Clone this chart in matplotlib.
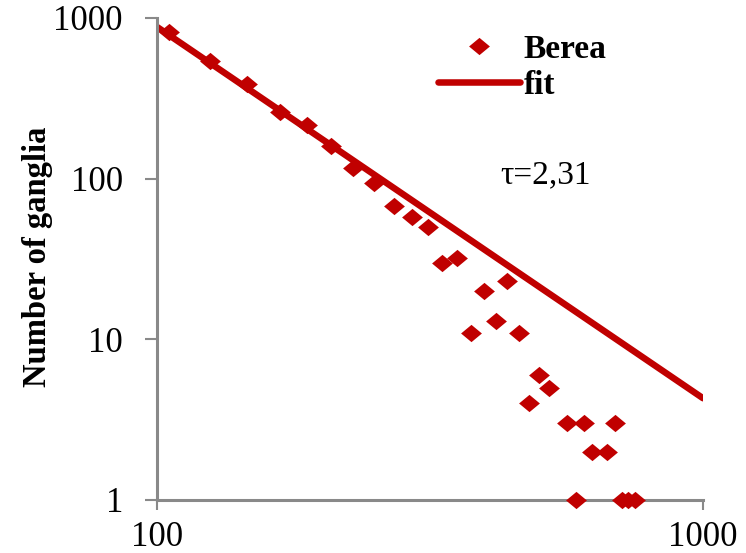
import numpy as np
import matplotlib
matplotlib.use('Agg')
import matplotlib.pyplot as plt
from matplotlib.ticker import FixedLocator, NullLocator, FixedFormatter

    ## data
# ganglion size (x) and number of ganglia (y), Berea sample
size = [105, 125, 146, 168, 188, 208, 229, 250, 272, 293, 313, 333, 355, 376, 397,
        418, 438, 460, 480, 501, 522, 564, 586, 605, 626, 666, 690, 711, 730, 751]
count = [822, 539, 386, 261, 216, 160, 117, 94, 68, 58, 50, 30, 32, 11, 20,
         13, 23, 11, 4, 6, 5, 3, 1, 3, 2, 2, 3, 1, 1, 1]

# power-law fit, end points of the line
fit_x = [100, 1000]
fit_y = [880, 4.3]
tau_text = 'τ=2,31'

x_ticks = [100, 1000]
x_ticklabels = ['100', '1000']
y_ticks = [1, 10, 100, 1000]
y_ticklabels = ['1', '10', '100', '1000']

red = '#C00000'
grey = '#898989'

plt.rcParams['font.family'] = ['Liberation Serif', 'DejaVu Serif']

fig = plt.figure(figsize=(7.46, 5.53), dpi=100)
ax = fig.add_axes([157 / 746, 1 - 500 / 553, 546 / 746, 482 / 553])

# diamond, a bit flatter than wide
diamond = [(-1, 0), (0, 0.83), (1, 0), (0, -0.83), (-1, 0)]

ax.plot(fit_x, fit_y, color=red, linewidth=4.7, solid_capstyle='round',
        label='fit', zorder=2)
ax.plot(size, count, linestyle='none', marker=diamond, markersize=15,
        markerfacecolor=red, markeredgewidth=0, color=red, label='Berea',
        clip_on=False, zorder=3)

ax.set_xscale('log')
ax.set_yscale('log')
ax.set_xlim(100, 1000)
ax.set_ylim(1, 1000)

ax.xaxis.set_major_locator(FixedLocator(x_ticks))
ax.xaxis.set_major_formatter(FixedFormatter(x_ticklabels))
ax.yaxis.set_major_locator(FixedLocator(y_ticks))
ax.yaxis.set_major_formatter(FixedFormatter(y_ticklabels))
ax.xaxis.set_minor_locator(NullLocator())
ax.yaxis.set_minor_locator(NullLocator())

for side in ['top', 'right']:
    ax.spines[side].set_visible(False)
for side in ['left', 'bottom']:
    ax.spines[side].set_color(grey)
    ax.spines[side].set_linewidth(2.2)

ax.tick_params(axis='y', direction='out', length=8.5, width=1.5, color=grey,
               pad=16, labelsize=25)
ax.tick_params(axis='x', direction='out', length=7, width=1.5, color=grey,
               pad=8, labelsize=25)

ax.set_ylabel('Number of ganglia', fontsize=23.5, fontweight='bold')
ax.yaxis.set_label_coords(-0.19, 0.505)

ax.text(0.628, 0.658, tau_text, transform=ax.transAxes, fontsize=24,
        ha='left', va='baseline')

handles, labels = ax.get_legend_handles_labels()
ax.legend(handles[::-1], labels[::-1], loc='upper left',
          bbox_to_anchor=(438 / 746, 1 - 34 / 553), bbox_transform=fig.transFigure,
          frameon=False, numpoints=1, handlelength=2.45, handletextpad=0.12,
          labelspacing=0.14, borderpad=0, borderaxespad=0,
          prop={'size': 24, 'weight': 'bold'})

fig.savefig('out.png', dpi=100)
